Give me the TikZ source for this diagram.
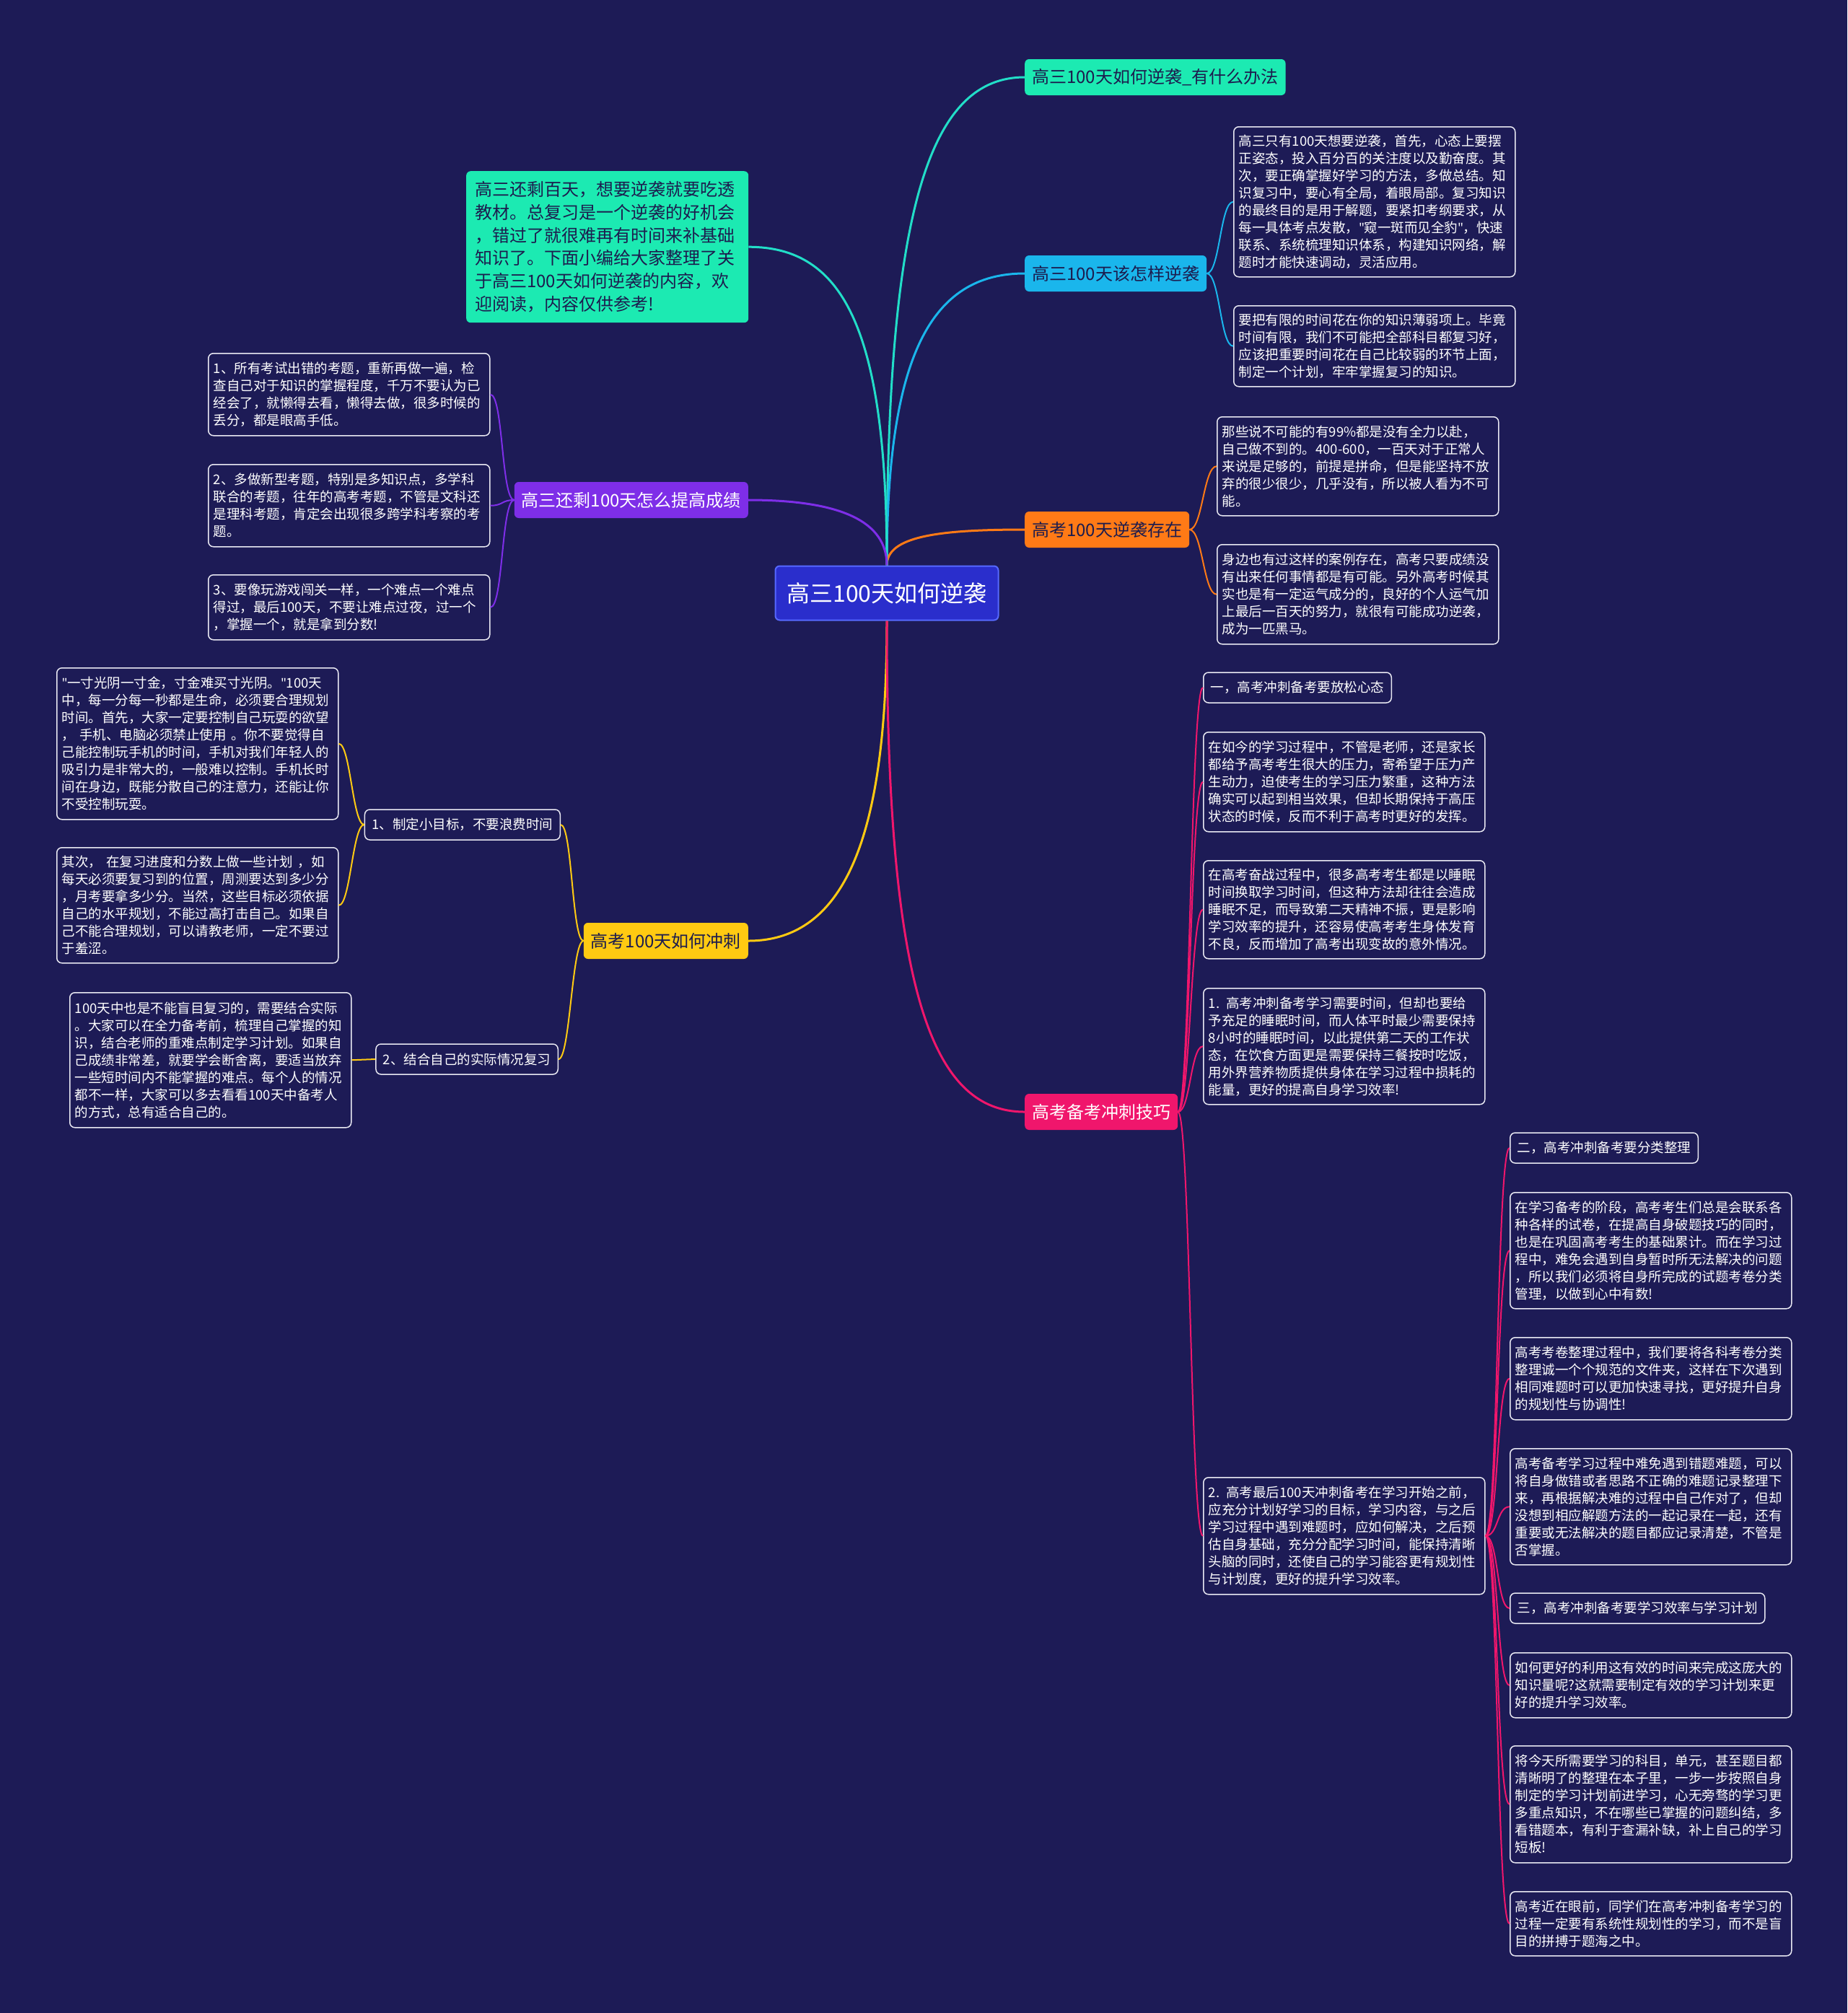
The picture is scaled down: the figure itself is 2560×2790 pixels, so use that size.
\documentclass[tikz,border=0pt]{standalone}
\usepackage{fontspec}
\setmainfont{Noto Sans CJK SC}
\newfontfamily\latq{Noto Sans}
\newcommand\dq{{\latq"}}
\definecolor{bg}{RGB}{29,27,86}
\definecolor{boxline}{RGB}{232,232,242}
\definecolor{darktxt}{RGB}{28,28,78}
\definecolor{cteal}{RGB}{34,222,200}
\definecolor{fgreen}{RGB}{28,234,178}
\definecolor{cblue}{RGB}{26,182,236}
\definecolor{corange}{RGB}{255,122,22}
\definecolor{cpink}{RGB}{240,22,108}
\definecolor{cyellow}{RGB}{255,202,18}
\definecolor{cpurple}{RGB}{126,46,232}
\definecolor{cmain}{RGB}{42,46,204}
\definecolor{cmainline}{RGB}{86,104,255}
\begin{document}
\begin{tikzpicture}[x=1pt,y=-1pt,
  tbox/.style={draw=boxline, line width=1.5pt, rounded corners=7pt, fill=bg, text=white,
    anchor=north west, inner xsep=7pt, inner ysep=5pt, text width=376pt, align=left,
    minimum width=390pt, font=\fontsize{18.5}{24}\selectfont},
  lbl/.style={draw=boxline, line width=1.5pt, rounded corners=7pt, fill=bg, text=white,
    inner xsep=10pt, inner ysep=4pt, minimum height=42pt, font=\fontsize{18.5}{24}\selectfont},
  br/.style={rounded corners=6pt, inner xsep=10pt, inner ysep=4pt, minimum height=50pt,
    font=\fontsize{24}{28}\selectfont},
  mline/.style={draw=#1, line width=3pt},
  sline/.style={draw=#1, line width=2pt}]
\fill[bg] (0,0) rectangle (2560,2790);
\useasboundingbox (0,0) rectangle (2560,2790);

% center
\node[fill=cmain, draw=cmainline, line width=2pt, rounded corners=6pt, text=white,
  minimum width=309pt, minimum height=75pt, font=\fontsize{32}{36}\selectfont] (c) at (1229,822) {高三100天如何逆袭};

% branches
\node[br, fill=fgreen, text=darktxt, anchor=west] (b1) at (1420,107) {高三100天如何逆袭\_有什么办法};
\node[br, fill=cblue, text=darktxt, anchor=west] (b2) at (1420,379) {高三100天该怎样逆袭};
\node[br, fill=corange, text=darktxt, anchor=west] (b3) at (1420,734) {高考100天逆袭存在};
\node[br, fill=cpink, text=white, anchor=west] (b4) at (1420,1541) {高考备考冲刺技巧};
\node[br, fill=cyellow, text=darktxt, anchor=east] (b5) at (1037,1304) {高考100天如何冲刺};
\node[br, fill=cpurple, text=white, anchor=east] (b6) at (1037,693) {高三还剩100天怎么提高成绩};

% intro
\node[fill=fgreen, text=darktxt, rounded corners=6pt, anchor=north west, inner xsep=12pt, inner ysep=5pt,
  text width=367pt, minimum width=391pt, minimum height=210pt, align=left,
  font=\fontsize{24}{31.7}\selectfont] (intro) at (646,237) {高三还剩百天，想要逆袭就要吃透\\教材。总复习是一个逆袭的好机会\\，错过了就很难再有时间来补基础\\知识了。下面小编给大家整理了关\\于高三100天如何逆袭的内容，欢\\迎阅读，内容仅供参考!};

% blue children
\node[tbox, minimum height=208pt] (b2a) at (1709,175) {高三只有100天想要逆袭，首先，心态上要摆\\正姿态，投入百分百的关注度以及勤奋度。其\\次，要正确掌握好学习的方法，多做总结。知\\识复习中，要心有全局，着眼局部。复习知识\\的最终目的是用于解题，要紧扣考纲要求，从\\每一具体考点发散，\dq 窥一斑而见全豹\dq ，快速\\联系、系统梳理知识体系，构建知识网络，解\\题时才能快速调动，灵活应用。};
\node[tbox, minimum height=112pt] (b2b) at (1709,423) {要把有限的时间花在你的知识薄弱项上。毕竟\\时间有限，我们不可能把全部科目都复习好，\\应该把重要时间花在自己比较弱的环节上面，\\制定一个计划，牢牢掌握复习的知识。};

% orange children
\node[tbox, minimum height=137pt] (o1) at (1686,577) {那些说不可能的有99\%都是没有全力以赴，\\自己做不到的。400-600，一百天对于正常人\\来说是足够的，前提是拼命，但是能坚持不放\\弃的很少很少，几乎没有，所以被人看为不可\\能。};
\node[tbox, minimum height=138pt] (o2) at (1686,754) {身边也有过这样的案例存在，高考只要成绩没\\有出来任何事情都是有可能。另外高考时候其\\实也是有一定运气成分的，良好的个人运气加\\上最后一百天的努力，就很有可能成功逆袭，\\成为一匹黑马。};

% purple children
\node[tbox, minimum height=114pt] (u1) at (288,489) {1、所有考试出错的考题，重新再做一遍，检\\查自己对于知识的掌握程度，千万不要认为已\\经会了，就懒得去看，懒得去做，很多时候的\\丢分，都是眼高手低。};
\node[tbox, minimum height=114pt] (u2) at (288,643) {2、多做新型考题，特别是多知识点，多学科\\联合的考题，往年的高考考题，不管是文科还\\是理科考题，肯定会出现很多跨学科考察的考\\题。};
\node[tbox, minimum height=90pt] (u3) at (288,796) {3、要像玩游戏闯关一样，一个难点一个难点\\得过，最后100天，不要让难点过夜，过一个\\，掌握一个，就是拿到分数!};

% yellow children
\node[lbl, anchor=east] (y1) at (777,1143) {1、制定小目标，不要浪费时间};
\node[lbl, anchor=east] (y2) at (774,1468) {2、结合自己的实际情况复习};
\node[tbox, minimum height=210pt] (ya) at (78,925) {\dq 一寸光阴一寸金，寸金难买寸光阴。\dq 100天\\中，每一分每一秒都是生命，必须要合理规划\\时间。首先，大家一定要控制自己玩耍的欲望\\， 手机、电脑必须禁止使用 。你不要觉得自\\己能控制玩手机的时间，手机对我们年轻人的\\吸引力是非常大的，一般难以控制。手机长时\\间在身边，既能分散自己的注意力，还能让你\\不受控制玩耍。};
\node[tbox, minimum height=160pt] (yb) at (78,1174) {其次， 在复习进度和分数上做一些计划 ，如\\每天必须要复习到的位置，周测要达到多少分\\，月考要拿多少分。当然，这些目标必须依据\\自己的水平规划，不能过高打击自己。如果自\\己不能合理规划，可以请教老师，一定不要过\\于羞涩。};
\node[tbox, minimum height=187pt] (yc) at (96,1375) {100天中也是不能盲目复习的，需要结合实际\\。大家可以在全力备考前，梳理自己掌握的知\\识，结合老师的重难点制定学习计划。如果自\\己成绩非常差，就要学会断舍离，要适当放弃\\一些短时间内不能掌握的难点。每个人的情况\\都不一样，大家可以多去看看100天中备考人\\的方式，总有适合自己的。};

% pink children
\node[lbl, anchor=west] (p1) at (1667,953) {一，高考冲刺备考要放松心态};
\node[tbox, minimum height=138pt] (p2) at (1667,1014) {在如今的学习过程中，不管是老师，还是家长\\都给予高考考生很大的压力，寄希望于压力产\\生动力，迫使考生的学习压力繁重，这种方法\\确实可以起到相当效果，但却长期保持于高压\\状态的时候，反而不利于高考时更好的发挥。};
\node[tbox, minimum height=136pt] (p3) at (1667,1192) {在高考奋战过程中，很多高考考生都是以睡眠\\时间换取学习时间，但这种方法却往往会造成\\睡眠不足，而导致第二天精神不振，更是影响\\学习效率的提升，还容易使高考考生身体发育\\不良，反而增加了高考出现变故的意外情况。};
\node[tbox, minimum height=161pt] (p4) at (1667,1369) {1. 高考冲刺备考学习需要时间，但却也要给\\予充足的睡眠时间，而人体平时最少需要保持\\8小时的睡眠时间，以此提供第二天的工作状\\态，在饮食方面更是需要保持三餐按时吃饭，\\用外界营养物质提供身体在学习过程中损耗的\\能量，更好的提高自身学习效率!};
\node[tbox, minimum height=162pt] (p5) at (1667,2047) {2. 高考最后100天冲刺备考在学习开始之前，\\应充分计划好学习的目标，学习内容，与之后\\学习过程中遇到难题时，应如何解决，之后预\\估自身基础，充分分配学习时间，能保持清晰\\头脑的同时，还使自己的学习能容更有规划性\\与计划度，更好的提升学习效率。};

\node[lbl, anchor=west] (q1) at (2092,1591) {二，高考冲刺备考要分类整理};
\node[tbox, minimum height=161pt] (q2) at (2092,1652) {在学习备考的阶段，高考考生们总是会联系各\\种各样的试卷，在提高自身破题技巧的同时，\\也是在巩固高考考生的基础累计。而在学习过\\程中，难免会遇到自身暂时所无法解决的问题\\，所以我们必须将自身所完成的试题考卷分类\\管理，以做到心中有数!};
\node[tbox, minimum height=114pt] (q3) at (2092,1853) {高考考卷整理过程中，我们要将各科考卷分类\\整理诚一个个规范的文件夹，这样在下次遇到\\相同难题时可以更加快速寻找，更好提升自身\\的规划性与协调性!};
\node[tbox, minimum height=161pt] (q4) at (2092,2007) {高考备考学习过程中难免遇到错题难题，可以\\将自身做错或者思路不正确的难题记录整理下\\来，再根据解决难的过程中自己作对了，但却\\没想到相应解题方法的一起记录在一起，还有\\重要或无法解决的题目都应记录清楚，不管是\\否掌握。};
\node[lbl, anchor=west] (q5) at (2092,2229) {三，高考冲刺备考要学习效率与学习计划};
\node[tbox, minimum height=90pt] (q6) at (2092,2290) {如何更好的利用这有效的时间来完成这庞大的\\知识量呢?这就需要制定有效的学习计划来更\\好的提升学习效率。};
\node[tbox, minimum height=162pt] (q7) at (2092,2419) {将今天所需要学习的科目，单元，甚至题目都\\清晰明了的整理在本子里，一步一步按照自身\\制定的学习计划前进学习，心无旁骛的学习更\\多重点知识，不在哪些已掌握的问题纠结，多\\看错题本，有利于查漏补缺，补上自己的学习\\短板!};
\node[tbox, minimum height=89pt] (q8) at (2092,2621) {高考近在眼前，同学们在高考冲刺备考学习的\\过程一定要有系统性规划性的学习，而不是盲\\目的拼搏于题海之中。};

% main connectors
\draw[mline=cteal] (c.north) .. controls +(0,-500) and +(-130,0) .. (b1.west);
\draw[mline=cblue] (c.north) .. controls +(0,-290) and +(-130,0) .. (b2.west);
\draw[mline=corange] (c.north) .. controls +(0,-40) and +(-120,0) .. (b3.west);
\draw[mline=cteal] (c.north) .. controls +(0,-330) and +(130,0) .. (intro.east);
\draw[mline=cpurple] (c.north) .. controls +(0,-60) and +(130,0) .. (b6.east);
\draw[mline=cyellow] (c.south) .. controls +(0,260) and +(150,0) .. (b5.east);
\draw[mline=cpink] (c.south) .. controls +(0,510) and +(-130,0) .. (b4.west);

% sub connectors
\foreach \t in {b2a,b2b}
  \draw[sline=cblue] (b2.east) .. controls +(18,0) and +(-18,0) .. (\t.west);
\foreach \t in {o1,o2}
  \draw[sline=corange] (b3.east) .. controls +(18,0) and +(-18,0) .. (\t.west);
\foreach \t in {u1,u2,u3}
  \draw[sline=cpurple] (b6.west) .. controls +(-18,0) and +(18,0) .. (\t.east);
\foreach \t in {y1,y2}
  \draw[sline=cyellow] (b5.west) .. controls +(-16,0) and +(16,0) .. (\t.east);
\foreach \t in {ya,yb}
  \draw[sline=cyellow] (y1.west) .. controls +(-16,0) and +(16,0) .. (\t.east);
\draw[sline=cyellow] (y2.west) -- (yc.east);
\foreach \t in {p1,p2,p3,p4,p5}
  \draw[sline=cpink] (b4.east) .. controls +(17,0) and +(-17,0) .. (\t.west);
\foreach \t in {q1,q2,q3,q4,q5,q6,q7,q8}
  \draw[sline=cpink] (p5.east) .. controls +(18,0) and +(-18,0) .. (\t.west);
\end{tikzpicture}
\end{document}
